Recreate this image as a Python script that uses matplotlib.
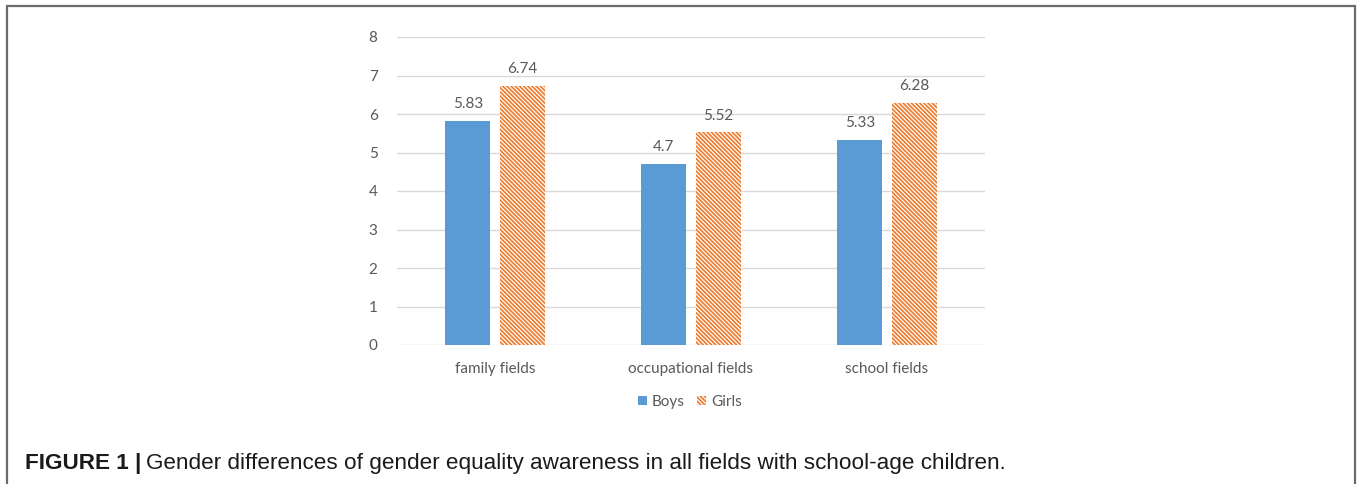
import matplotlib
matplotlib.use("Agg")
import matplotlib.pyplot as plt
from matplotlib.patches import Rectangle
import numpy as np

categories = ["family fields", "occupational fields", "school fields"]
boys = [5.83, 4.7, 5.33]
girls = [6.74, 5.52, 6.28]
boys_labels = ["5.83", "4.7", "5.33"]
girls_labels = ["6.74", "5.52", "6.28"]
yticks = [0, 1, 2, 3, 4, 5, 6, 7, 8]

W, H = 1360, 484
fig = plt.figure(figsize=(W / 100, H / 100), dpi=100)
plt.rcParams['hatch.linewidth'] = 1.25

ax = fig.add_axes([397 / W, (H - 345) / H, (985 - 397) / W, (345 - 37) / H])
x = np.arange(len(categories))
bw = 0.23
off = 0.138
blue = "#5B9BD5"
orange = "#ED7D31"
grey = "#595959"
fs = 11

b1 = ax.bar(x - off, boys, bw, color=blue, zorder=3, label="Boys")
b2 = ax.bar(x + off, girls, bw, color="white", edgecolor=orange, hatch="\\" * 8,
            linewidth=0, zorder=3, label="Girls")

for xi, v, s in zip(x - off, boys, boys_labels):
    ax.annotate(s, (xi, v), xytext=(0, 7), textcoords="offset points",
                ha="center", va="bottom", fontsize=fs, color=grey, family="Lato")
for xi, v, s in zip(x + off, girls, girls_labels):
    ax.annotate(s, (xi, v), xytext=(0, 7), textcoords="offset points",
                ha="center", va="bottom", fontsize=fs, color=grey, family="Lato")

ax.set_xlim(-0.5, 2.5)
ax.set_ylim(0, 8)
ax.set_yticks(yticks)
ax.set_yticklabels([str(t) for t in yticks], fontsize=fs, color=grey, family="Lato")
ax.set_xticks(x)
ax.set_xticklabels(categories, fontsize=fs, color=grey, family="Lato")
ax.tick_params(axis="y", length=0, pad=14)
ax.tick_params(axis="x", length=0, pad=12)
ax.grid(axis="y", color="#d9d9d9", linewidth=1, zorder=0)
for sp in ax.spines.values():
    sp.set_visible(False)

leg = fig.legend(handles=[b1, b2], labels=["Boys", "Girls"], loc="center",
                 bbox_to_anchor=(690 / W, (H - 402) / H), ncol=2, frameon=False,
                 prop={"family": "Lato", "size": fs}, handlelength=0.6,
                 handleheight=0.6, handletextpad=0.3, columnspacing=0.8)
for t in leg.get_texts():
    t.set_color(grey)

# border
fig.add_artist(Rectangle((7 / W, -0.05), (1355 - 7) / W, (H - 6) / H + 0.05,
                         transform=fig.transFigure, fill=False,
                         edgecolor="#6b6b6b", linewidth=1.6))

cy = (H - 464) / H
t1 = fig.text(25 / W, cy, "FIGURE 1 |", fontsize=16.2, fontweight="bold",
              family="Liberation Sans", va="center", ha="left", color="#1a1a1a")
fig.canvas.draw()
bb = t1.get_window_extent()
fig.text((bb.x1 + 5) / W, cy,
         "Gender differences of gender equality awareness in all fields with school-age children.",
         fontsize=16.2, family="Liberation Sans", va="center", ha="left", color="#1a1a1a")

fig.savefig("out.png", dpi=100)
